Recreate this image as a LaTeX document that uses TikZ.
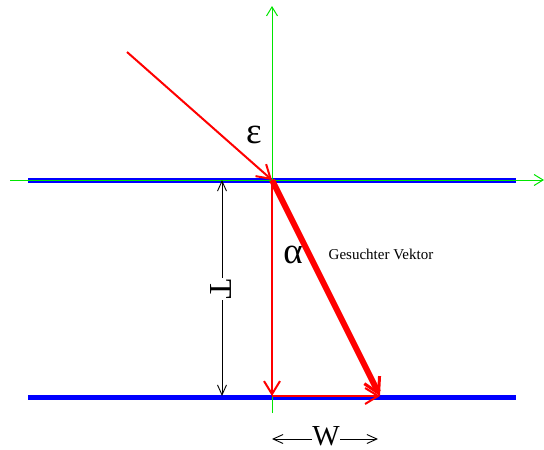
\documentclass[tikz,border=0pt]{standalone}
\usepackage{fontspec}
\setmainfont{Liberation Serif}
\definecolor{axisgreen}{RGB}{0,230,0}
\usetikzlibrary{arrows.meta}

\begin{document}
\begin{tikzpicture}[x=1pt, y=-1pt,
  plane/.style={blue, line width=5pt},
  axis/.style={axisgreen, line width=1pt, -{Straight Barb[length=9pt, width=11pt]}},
  ray/.style={red, line width=2pt, -{Straight Barb[length=13pt, width=16pt, line width=2pt]}},
  vec/.style={red, line width=6pt, -{Straight Barb[length=15pt, width=17pt, line width=3pt]}},
  dim/.style={black, line width=0.9pt, {Straight Barb[length=10pt, width=9pt]}-{Straight Barb[length=10pt, width=9pt]}},
  wdim/.style={black, line width=0.9pt, -{Straight Barb[length=10pt, width=9pt]}},
  greek/.style={font=\fontsize{37}{39}\selectfont},
  lab/.style={font=\fontsize{32}{34}\selectfont, fill=white, inner sep=1pt}
]
\useasboundingbox (0,0) rectangle (544,450);
% points
\coordinate (hit) at (272,180);
\coordinate (foot) at (272,396);
\coordinate (tip) at (380,396);
\coordinate (src) at (127,52);
% planes
\draw[plane] (28,180) -- (516,180);
\draw[plane] (28,397) -- (516,397);
% axes
\coordinate (xl) at (10,180);
\coordinate (xr) at (544,180);
\coordinate (yb) at (272,413);
\coordinate (yt) at (272,6);
\draw[axis] (xl) -- (xr);
\draw[axis] (yb) -- (yt);
% rays
\draw[ray] (src) -- (hit);
\draw[ray] (hit) -- (foot);
\draw[ray] (foot) -- (tip);
\draw[vec] (hit) -- (tip);
% labels
\node[greek] (eps) at (254,135) {ε};
\node[greek] (alp) at (293,255) {α};
\node[font=\fontsize{15}{17}\selectfont] (vtext) at (381,254) {Gesuchter Vektor};
% thickness
\coordinate (d1) at (222,180);
\coordinate (d2) at (222,396);
\draw[dim] (d1) -- (d2);
\node[lab, rotate=-90] (tlab) at (221,289) {T};
% width
\node[font=\fontsize{29}{31}\selectfont, inner sep=0.5pt, text depth=0pt, anchor=base] (wlab) at (326,445) {W};
\coordinate (wl) at (272,439);
\coordinate (wr) at (378,439);
\draw[wdim] (wlab.west |- wl) -- (wl);
\draw[wdim] (wlab.east |- wr) -- (wr);
\end{tikzpicture}
\end{document}
